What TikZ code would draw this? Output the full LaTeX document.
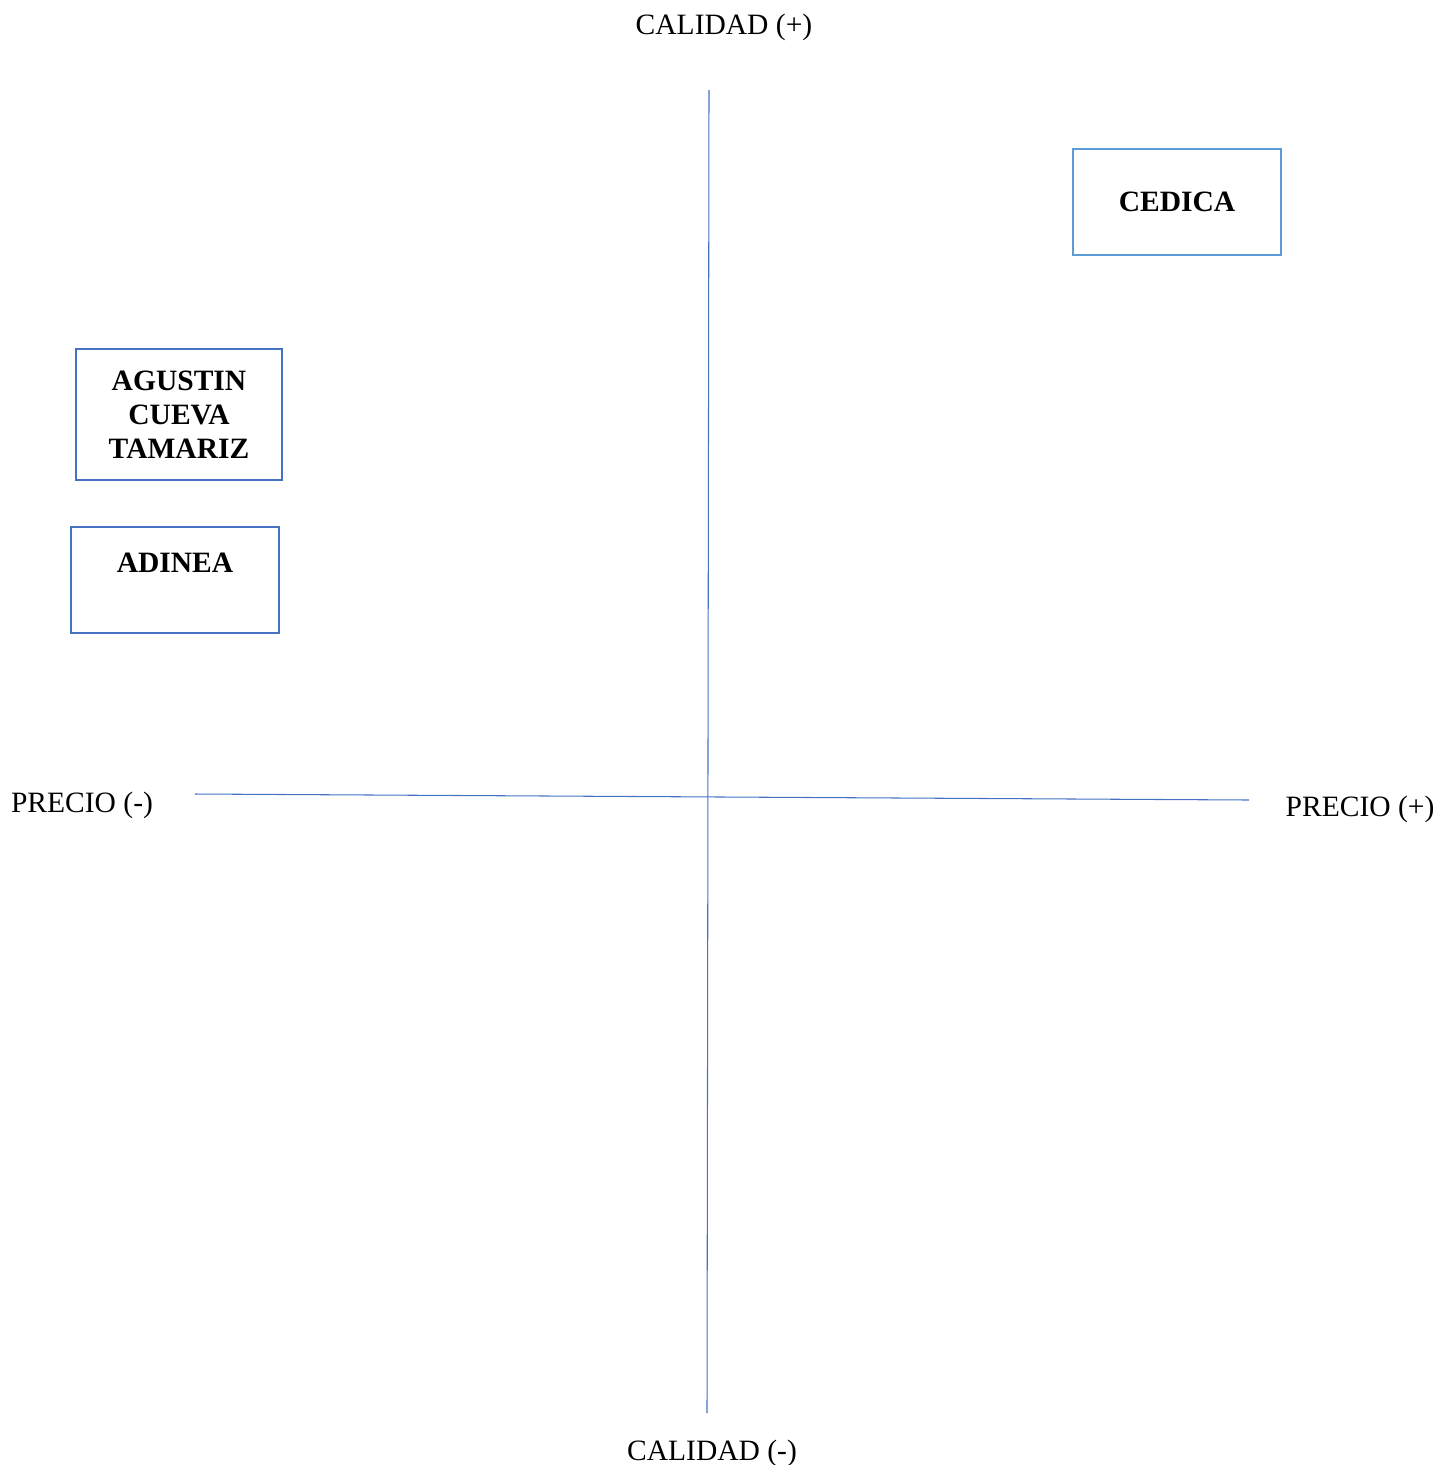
\documentclass[tikz,border=0pt]{standalone}
\usepackage{fontspec}
\setmainfont{Liberation Serif}
\usetikzlibrary{positioning,calc}
\definecolor{AxisBlue}{rgb}{0.27, 0.45, 0.77}
\definecolor{BoxBlue}{rgb}{0.27, 0.45, 0.77}
\definecolor{BoxLight}{rgb}{0.36, 0.61, 0.84}
\tikzset{map layout/.style={%
    y=-0.2mm,
    x=0.2mm,
    every node/.style={%
        font=\fontsize{16.8}{19.4}\selectfont, inner sep=0pt
    }
}}
\tikzset{firm/.style={%
    draw=BoxBlue, line width=1.4pt, minimum width=41.6mm, align=center, font=\fontsize{16.8}{19.4}\selectfont\bfseries
}}
\tikzset{axis line/.style={%
    AxisBlue, line width=0.6pt
}}

\begin{document}
\begin{tikzpicture}[map layout]
            \useasboundingbox (0,0) rectangle (1453,1465);

            % ejes
            \coordinate (qtop) at (709,90);
            \coordinate (qbot) at (707,1413);
            \coordinate (pleft) at (195,794);
            \coordinate (pright) at (1249,800);
            \draw[axis line] (qtop) -- (qbot);
            \draw[axis line] (pleft) -- (pright);

            \node (calmas) at (724,27) {CALIDAD (+)};
            \node (calmenos) at (712,1453) {CALIDAD (-)};
            \node (premenos) at (82,805) {PRECIO (-)};
            \node (premas) at (1360,809) {PRECIO (+)};

            % empresas
            \node[firm, draw=BoxLight, minimum height=21.2mm] (cedica) at (1177,202) {CEDICA};
            \node[firm, minimum width=41.2mm, minimum height=26.2mm] (agustin) at (179,414.5) {AGUSTIN\\CUEVA\\TAMARIZ};
            \node[firm, minimum height=21.2mm] (adinea) at (175,580) {ADINEA\\\mbox{}};
        \end{tikzpicture}
\end{document}
